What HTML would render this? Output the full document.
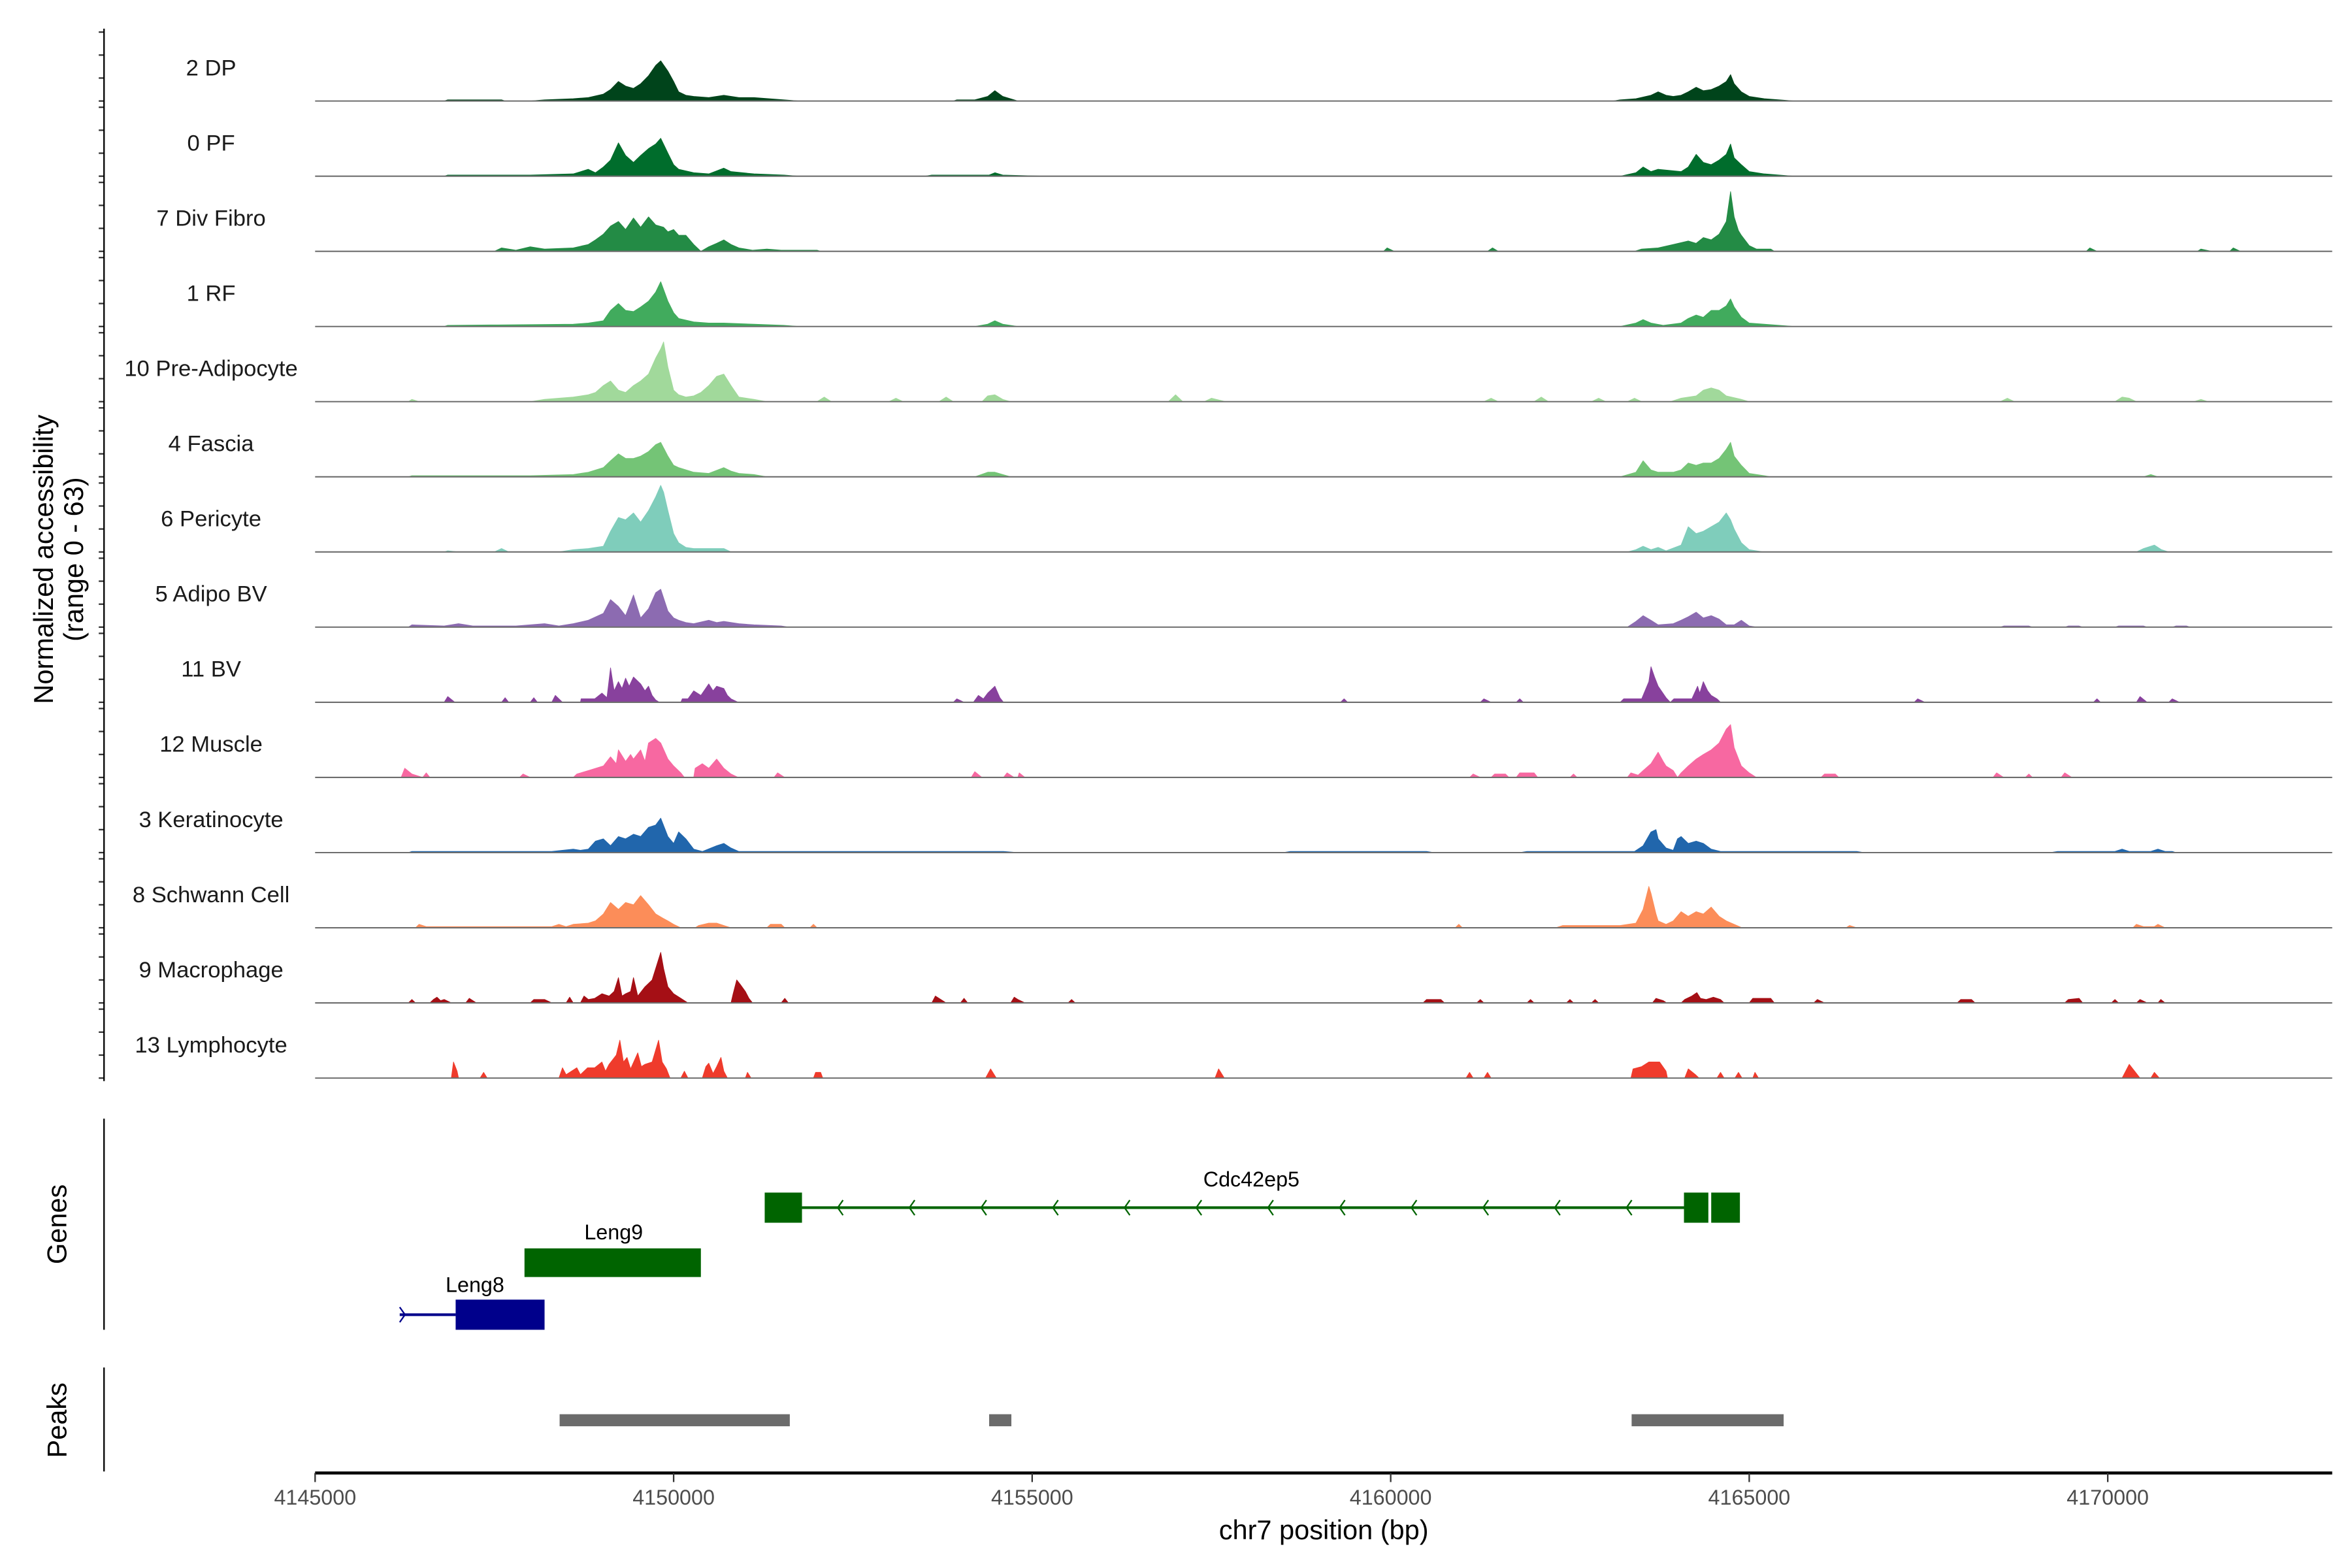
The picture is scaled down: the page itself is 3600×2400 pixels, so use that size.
<!DOCTYPE html>
<html><head><meta charset="utf-8"><style>
html,body{margin:0;padding:0;background:#fff;}
svg{display:block;font-family:"Liberation Sans",Arial,sans-serif;}
</style></head><body>
<svg id="chart" width="3600" height="2400" viewBox="0 0 1560 1040" xmlns="http://www.w3.org/2000/svg">
<rect width="1560" height="1040" fill="#fff"/>
<g id="tracks"></g>
<g id="yaxis"></g>
<text transform="translate(35,371) rotate(-90)" text-anchor="middle" font-size="18" fill="#000">Normalized accessibility</text>
<text transform="translate(55,371) rotate(-90)" text-anchor="middle" font-size="18" fill="#000">(range 0 - 63)</text>
<g id="genes"></g>
<line x1="69" y1="742" x2="69" y2="882" stroke="#000" stroke-width="1"/>
<text transform="translate(44,812) rotate(-90)" text-anchor="middle" font-size="18" fill="#000">Genes</text>
<g id="peaks"></g>
<line x1="69" y1="907" x2="69" y2="976" stroke="#000" stroke-width="1"/>
<text transform="translate(44,942) rotate(-90)" text-anchor="middle" font-size="18" fill="#000">Peaks</text>
<g id="xaxis"></g>
<text x="878" y="1021" text-anchor="middle" font-size="18" fill="#000">chr7 position (bp)</text>
</svg>
<script>
// ---- data (positions in kb offset from regionStart, values in normalized accessibility 0-63) ----
const regionStart = 4145000;
const regionEndKb = 28.13;
const xTicksBp = [4145000, 4150000, 4155000, 4160000, 4165000, 4170000];
const yMaxValue = 63;
const yTickValues = [0, 20, 40, 60];
const trackNames = ["2 DP","0 PF","7 Div Fibro","1 RF","10 Pre-Adipocyte","4 Fascia","6 Pericyte","5 Adipo BV","11 BV","12 Muscle","3 Keratinocyte","8 Schwann Cell","9 Macrophage","13 Lymphocyte"];
const trackColors = ["#00441b","#006d2c","#238b45","#41ab5d","#a1d99b","#74c476","#7fcdbb","#8c6bb1","#88419d","#f768a1","#2166ac","#fc8d59","#a50f15","#ef3b2c"];

const sig0 = [1.8,0,1.85,1,2.6,1,2.65,0,3.0,0,3.2,1,3.6,2,3.81,3,4.02,6,4.12,10,4.23,17,4.33,13,4.44,11,4.54,15,4.65,22,4.75,31,4.82,35,4.92,26,5.00,17,5.07,8,5.17,5,5.28,4,5.49,3,5.70,5,5.91,3,6.12,3,6.54,1,6.75,0,8.9,0,8.95,1,9.2,1,9.38,4,9.48,9,9.59,4,9.8,0,18.1,0,18.2,1,18.42,2,18.63,5,18.73,8,18.84,5,18.94,4,19.05,5,19.15,8,19.26,12,19.36,9,19.47,10,19.58,13,19.68,17,19.74,23,19.79,15,19.89,8,20.00,4,20.21,2,20.42,1,20.63,0];
const sig1 = [1.8,0,1.85,1,3.0,1,3.6,2,3.81,6,3.91,3,4.02,8,4.12,14,4.23,29,4.33,18,4.44,12,4.54,18,4.65,24,4.75,28,4.82,33,4.92,20,5.00,10,5.07,6,5.28,3,5.49,2,5.70,7,5.80,4,6.12,2,6.54,1,6.75,0,8.5,0,8.6,1,9.4,1,9.48,3,9.59,1,10.2,0,18.2,0,18.42,3,18.52,8,18.63,4,18.73,6,19.05,4,19.15,8,19.26,19,19.36,12,19.47,10,19.58,14,19.68,19,19.74,28,19.79,16,19.89,10,20.00,4,20.21,2,20.42,1,20.63,0];
const sig2 = [2.5,0,2.6,3,2.8,1,3.0,4,3.2,2,3.6,3,3.81,6,3.91,10,4.02,15,4.12,22,4.23,26,4.33,19,4.44,29,4.54,21,4.65,30,4.75,23,4.86,21,4.92,17,5.0,19,5.07,14,5.17,14,5.28,6,5.38,0,5.49,4,5.6,7,5.7,10,5.8,6,5.91,3,6.1,1,6.3,2,6.5,1,7.0,1,7.05,0,14.9,0,14.95,3,15.05,0,16.35,0,16.42,3,16.5,0,18.4,0,18.5,2,18.73,3,18.94,6,19.15,9,19.26,7,19.36,12,19.47,10,19.58,15,19.68,26,19.74,52,19.79,30,19.85,18,19.89,14,20.0,5,20.1,2,20.3,2,20.35,0,24.7,0,24.75,3,24.85,0,26.25,0,26.3,2,26.45,0,26.7,0,26.75,3,26.85,0];
const sig3 = [1.8,0,1.85,1,3.6,2,3.81,3,4.02,5,4.12,14,4.23,20,4.33,14,4.44,13,4.54,17,4.65,22,4.75,30,4.82,39,4.92,22,5.00,12,5.07,7,5.28,4,5.49,3,5.70,3,6.12,2,6.54,1,6.75,0,9.2,0,9.38,2,9.48,5,9.59,2,9.8,0,18.2,0,18.42,3,18.52,6,18.63,3,18.8,1,19.05,3,19.15,7,19.26,10,19.36,8,19.47,14,19.58,14,19.68,18,19.74,24,19.79,17,19.89,8,20.0,3,20.42,1,20.63,0];
const sig4 = [1.3,0,1.35,2,1.45,0,3.0,0,3.2,2,3.6,4,3.81,6,3.91,8,4.02,14,4.12,18,4.23,10,4.33,8,4.44,14,4.54,18,4.65,24,4.75,38,4.82,46,4.86,52,4.92,30,5.0,10,5.07,6,5.17,4,5.28,5,5.38,8,5.49,14,5.6,22,5.7,24,5.8,14,5.91,4,6.12,2,6.3,0,7.0,0,7.1,4,7.2,0,8.0,0,8.1,3,8.2,0,8.7,0,8.8,4,8.9,0,9.3,0,9.38,5,9.48,6,9.59,2,9.7,0,11.9,0,12.0,6,12.1,0,12.4,0,12.5,3,12.7,0,16.3,0,16.4,3,16.5,0,17.0,0,17.1,4,17.2,0,17.8,0,17.9,3,18.0,0,18.3,0,18.4,3,18.5,0,18.9,0,19.05,3,19.26,5,19.36,10,19.47,12,19.58,10,19.68,5,19.89,2,20.0,0,23.5,0,23.6,3,23.7,0,25.1,0,25.2,4,25.3,3,25.4,0,26.2,0,26.3,2,26.4,0];
const sig5 = [1.3,0,1.35,1,3.0,1,3.6,2,3.81,4,4.02,8,4.12,14,4.23,20,4.33,16,4.44,16,4.54,18,4.65,22,4.75,28,4.82,30,4.92,18,5.0,10,5.07,8,5.28,4,5.49,3,5.7,8,5.8,5,5.91,3,6.12,2,6.3,0,9.2,0,9.38,4,9.48,4,9.59,2,9.7,0,18.2,0,18.42,4,18.52,14,18.63,6,18.73,4,18.94,4,19.05,6,19.15,12,19.26,10,19.36,12,19.47,12,19.58,16,19.68,24,19.74,30,19.79,18,19.89,10,20.0,3,20.21,1,20.3,0,25.5,0,25.6,2,25.7,0];
const sig6 = [1.8,0,1.85,1,2.0,0,2.5,0,2.6,3,2.7,0,3.4,0,3.6,2,3.81,3,4.02,5,4.12,18,4.23,30,4.33,28,4.44,34,4.54,26,4.65,36,4.75,48,4.82,58,4.86,52,4.92,36,5.0,16,5.07,8,5.17,4,5.28,3,5.49,3,5.7,3,5.8,0,18.3,0,18.42,2,18.52,5,18.63,2,18.73,4,18.84,1,19.05,6,19.15,22,19.26,16,19.36,18,19.47,22,19.58,26,19.68,34,19.74,28,19.79,20,19.89,8,20.0,2,20.2,0,25.4,0,25.5,3,25.65,6,25.75,2,25.85,0];
const sig7 = [1.3,0,1.35,2,1.8,1,2.0,3,2.2,1,2.8,1,3.2,3,3.4,1,3.6,3,3.81,6,4.02,12,4.12,24,4.23,18,4.33,10,4.44,28,4.54,8,4.65,16,4.75,30,4.82,33,4.92,14,5.0,8,5.07,6,5.17,4,5.28,3,5.49,6,5.6,4,5.7,5,5.91,3,6.12,2,6.5,1,6.6,0,18.3,0,18.42,5,18.52,10,18.63,6,18.73,2,18.94,3,19.05,6,19.15,9,19.26,13,19.36,8,19.47,10,19.58,7,19.68,2,19.79,2,19.89,6,20.0,1,20.1,0,23.5,0,23.55,1,23.9,1,23.95,0,24.4,0,24.45,1,24.6,1,24.65,0,25.1,0,25.15,1,25.5,1,25.55,0,25.9,0,25.95,1,26.1,1,26.15,0];
const sig8 = [1.8,0,1.85,5,1.95,0,2.6,0,2.65,4,2.7,0,3.0,0,3.05,4,3.1,0,3.3,0,3.35,6,3.45,0,3.7,0,3.71,3,3.9,3,4.0,8,4.07,4,4.12,30,4.17,10,4.23,18,4.28,12,4.33,21,4.38,14,4.44,22,4.54,16,4.6,10,4.65,14,4.7,6,4.75,2,4.8,0,5.1,0,5.12,3,5.2,3,5.28,10,5.38,6,5.49,16,5.55,10,5.6,14,5.7,12,5.75,6,5.8,3,5.9,0,8.9,0,8.95,3,9.05,0,9.18,0,9.25,6,9.32,3,9.38,8,9.48,14,9.55,4,9.6,0,14.3,0,14.35,3,14.4,0,16.25,0,16.3,3,16.4,0,16.75,0,16.8,3,16.85,0,18.2,0,18.25,3,18.5,3,18.6,18,18.63,31,18.68,22,18.73,14,18.84,4,18.9,0,18.95,3,19.2,3,19.28,14,19.31,8,19.36,18,19.42,10,19.47,6,19.55,3,19.6,0,22.3,0,22.35,3,22.45,0,24.8,0,24.85,3,24.9,0,25.4,0,25.45,5,25.55,0,25.85,0,25.9,3,26.0,0];
const sig9 = [1.2,0,1.25,8,1.35,3,1.5,0,1.55,4,1.6,0,2.85,0,2.9,3,3.0,0,3.6,0,3.65,3,3.81,6,4.02,10,4.12,18,4.2,12,4.23,24,4.33,14,4.4,20,4.44,16,4.54,24,4.6,14,4.65,30,4.75,34,4.82,30,4.92,16,5.0,10,5.1,4,5.15,0,5.28,0,5.3,8,5.4,12,5.49,8,5.6,16,5.7,8,5.8,3,5.9,0,6.4,0,6.45,4,6.55,0,9.15,0,9.2,5,9.3,0,9.6,0,9.65,4,9.75,0,9.8,0,9.82,4,9.9,0,16.1,0,16.15,3,16.25,0,16.4,0,16.45,3,16.6,3,16.65,0,16.75,0,16.8,4,17.0,4,17.05,0,17.5,0,17.55,3,17.6,0,18.3,0,18.35,4,18.45,2,18.52,6,18.63,12,18.73,22,18.8,14,18.84,10,18.94,6,19.0,0,19.05,4,19.15,10,19.26,16,19.36,20,19.47,24,19.58,30,19.68,42,19.74,46,19.79,26,19.89,10,20.0,4,20.1,0,21.0,0,21.05,3,21.2,3,21.25,0,23.4,0,23.45,4,23.55,0,23.85,0,23.9,3,23.95,0,24.35,0,24.4,4,24.5,0];
const sig10 = [1.3,0,1.35,1,3.3,1,3.6,3,3.7,2,3.81,3,3.91,10,4.02,12,4.12,6,4.23,14,4.33,12,4.44,16,4.54,14,4.65,22,4.75,24,4.82,30,4.92,14,5.0,8,5.07,18,5.17,12,5.28,3,5.4,1,5.6,6,5.7,8,5.8,4,5.91,1,6.5,1,9.0,1,9.6,1,9.8,0,13.5,0,13.6,1,15.5,1,15.6,0,16.8,0,16.9,1,18.4,1,18.52,6,18.63,18,18.7,20,18.73,12,18.84,4,18.94,2,19.0,12,19.05,14,19.15,8,19.26,10,19.36,8,19.47,3,19.6,1,20.2,1,21.5,1,21.6,0,24.2,0,24.3,1,25.1,1,25.2,3,25.3,1,25.6,1,25.7,3,25.8,1,25.9,1,25.95,0];
const sig11 = [1.4,0,1.45,3,1.55,1,1.8,1,2.5,1,3.3,1,3.4,3,3.5,1,3.6,3,3.81,4,3.91,6,4.02,12,4.12,22,4.23,16,4.33,22,4.44,20,4.54,28,4.65,20,4.75,12,4.86,8,4.92,6,5.0,3,5.1,0,5.3,0,5.35,2,5.49,4,5.6,4,5.7,2,5.8,0,6.3,0,6.35,3,6.5,3,6.55,0,6.9,0,6.95,3,7.0,0,15.9,0,15.95,3,16.0,0,17.3,0,17.4,2,18.2,2,18.42,4,18.52,16,18.6,36,18.63,30,18.7,12,18.73,6,18.84,3,18.94,6,19.05,14,19.15,10,19.26,14,19.36,12,19.47,18,19.58,10,19.68,6,19.79,3,19.9,0,21.35,0,21.4,2,21.5,0,25.35,0,25.4,3,25.5,1,25.65,1,25.7,3,25.8,0];
const sig12 = [1.3,0,1.35,3,1.4,0,1.6,0,1.65,3,1.7,5,1.75,2,1.8,3,1.9,0,2.1,0,2.15,4,2.25,0,3.0,0,3.05,3,3.2,3,3.3,0,3.5,0,3.55,5,3.6,0,3.7,0,3.75,6,3.81,3,3.9,4,4.0,8,4.1,6,4.17,10,4.23,22,4.28,6,4.33,8,4.4,10,4.44,22,4.5,6,4.6,14,4.7,20,4.78,36,4.82,44,4.86,30,4.92,14,5.0,8,5.1,4,5.2,0,5.8,0,5.83,8,5.88,20,5.93,16,6.0,10,6.05,4,6.1,0,6.5,0,6.55,4,6.6,0,8.6,0,8.65,6,8.75,2,8.8,0,9.0,0,9.05,4,9.1,0,9.7,0,9.75,5,9.8,3,9.9,0,10.5,0,10.55,3,10.6,0,15.45,0,15.5,3,15.7,3,15.75,0,16.2,0,16.25,3,16.3,0,16.9,0,16.95,3,17.0,0,17.45,0,17.5,3,17.55,0,17.8,0,17.85,3,17.9,0,18.65,0,18.7,4,18.8,2,18.85,0,19.05,0,19.1,3,19.2,6,19.27,9,19.32,4,19.4,3,19.5,5,19.6,3,19.65,0,20.0,0,20.05,4,20.3,4,20.35,0,20.9,0,20.95,3,21.05,0,22.9,0,22.95,3,23.1,3,23.15,0,24.4,0,24.45,3,24.6,4,24.65,0,25.05,0,25.1,3,25.15,0,25.4,0,25.45,3,25.55,0,25.7,0,25.74,3,25.8,0];
const sig13 = [1.9,0,1.93,14,1.98,6,2.0,0,2.3,0,2.35,5,2.4,0,3.4,0,3.45,9,3.5,3,3.65,9,3.7,3,3.8,9,3.9,9,4.0,14,4.05,6,4.1,12,4.2,20,4.25,33,4.3,14,4.35,18,4.4,8,4.5,22,4.55,10,4.6,12,4.7,14,4.79,33,4.84,14,4.9,8,4.95,0,5.1,0,5.15,6,5.2,0,5.4,0,5.45,10,5.49,13,5.55,4,5.6,10,5.66,18,5.7,6,5.75,0,6.0,0,6.03,5,6.08,0,6.95,0,6.98,5,7.05,5,7.08,0,9.35,0,9.42,8,9.5,0,12.55,0,12.6,8,12.68,0,16.05,0,16.1,5,16.15,0,16.3,0,16.35,5,16.4,0,18.35,0,18.38,8,18.5,10,18.6,14,18.75,14,18.84,6,18.86,0,19.1,0,19.15,8,19.25,3,19.3,0,19.55,0,19.6,5,19.65,0,19.8,0,19.85,5,19.9,0,20.05,0,20.08,5,20.13,0,25.2,0,25.3,12,25.4,4,25.45,0,25.6,0,25.65,5,25.72,0];
const trackSignals = [sig0,sig1,sig2,sig3,sig4,sig5,sig6,sig7,sig8,sig9,sig10,sig11,sig12,sig13];

const geneNames = ["Cdc42ep5","Leng9","Leng8"];
const geneStarts = [6.27, 2.92, 1.18];
const geneEnds = [19.87, 5.38, 3.20];
const peakStarts = [3.41, 9.40, 18.36];
const peakEnds = [6.62, 9.71, 20.48];

// ---- scales ----
const X0 = 209, PX_PER_KB = 47.56;
function xScale(kb){ return X0 + kb * PX_PER_KB; }
function xScaleBp(bp){ return xScale((bp - regionStart)/1000); }
const BASE0 = 67, TRACK_STEP = 49.85, TRACK_H = 48;
function baseline(i){ return BASE0 + i*TRACK_STEP; }
function yScale(i, v){ return baseline(i) - v / yMaxValue * TRACK_H; }

const NS = "http://www.w3.org/2000/svg";
function mk(tag, attrs, parent){
  const e = document.createElementNS(NS, tag);
  for (const k in attrs) e.setAttribute(k, attrs[k]);
  parent.appendChild(e);
  return e;
}

// ---- tracks ----
const gT = document.getElementById("tracks");
const gY = document.getElementById("yaxis");
trackNames.forEach((name, i) => {
  const sig = trackSignals[i];
  const b = baseline(i);
  let d = "M" + xScale(sig[0]).toFixed(2) + "," + b.toFixed(2);
  for (let k = 0; k < sig.length; k += 2) {
    d += "L" + xScale(sig[k]).toFixed(2) + "," + yScale(i, sig[k+1]).toFixed(2);
  }
  d += "L" + xScale(sig[sig.length-2]).toFixed(2) + "," + b.toFixed(2) + "Z";
  const p = mk("path", {d: d, fill: trackColors[i], stroke: trackColors[i], "stroke-width": 0.4, "stroke-linejoin": "round"}, gT);
  
  
  const ln = mk("line", {x1: X0, y1: b, x2: xScale(regionEndKb), y2: b, stroke: "#6e6e6e", "stroke-width": 0.9}, gT);
  
  
  const t = mk("text", {x: 140, y: b - 17, "text-anchor": "middle", "font-size": 15, fill: "#1a1a1a"}, gT);
  t.textContent = name;
  
  
  yTickValues.forEach(v => {
    const tk = mk("line", {x1: 65.5, x2: 69, y1: yScale(i, v), y2: yScale(i, v), stroke: "#333", "stroke-width": 1}, gY);
    
    
  });
});
const yAx = mk("line", {x1: 69, x2: 69, y1: yScale(0, yMaxValue), y2: baseline(13) + 2, stroke: "#000", "stroke-width": 1}, gY);



// ---- genes ----
const gG = document.getElementById("genes");
const geneGreen = "#006400", geneBlue = "#00008b";
(function(){
  const y = 801;
  const l = mk("line", {x1: xScale(6.79), x2: xScale(19.09), y1: y, y2: y, stroke: geneGreen, "stroke-width": 1.8}, gG);
  
  
  for (let kb = 7.32; kb < 19.0; kb += 1.0) {
    const cx = xScale(kb);
    const c = mk("path", {d: `M${cx+2},${y-5}L${cx-1.5},${y}L${cx+2},${y+5}`, fill: "none", stroke: geneGreen, "stroke-width": 1}, gG);
    
    
  }
  const b1 = mk("rect", {x: xScale(geneStarts[0]), y: 791, width: xScale(6.79)-xScale(geneStarts[0]), height: 20, fill: geneGreen}, gG);
  
  
  const b2 = mk("rect", {x: xScale(19.09), y: 791, width: xScale(19.43)-xScale(19.09), height: 20, fill: geneGreen}, gG);
  
  
  const b3 = mk("rect", {x: xScale(19.47), y: 791, width: xScale(geneEnds[0])-xScale(19.47), height: 20, fill: geneGreen}, gG);
  
  
  const t = mk("text", {x: 830, y: 787, "text-anchor": "middle", "font-size": 14, fill: "#000"}, gG);
  t.textContent = geneNames[0];
  
  
})();
(function(){
  const r = mk("rect", {x: xScale(geneStarts[1]), y: 828, width: xScale(geneEnds[1])-xScale(geneStarts[1]), height: 19, fill: geneGreen}, gG);
  
  
  const t = mk("text", {x: 407, y: 822, "text-anchor": "middle", "font-size": 14, fill: "#000"}, gG);
  t.textContent = geneNames[1];
  
  
})();
(function(){
  const y = 872;
  const l = mk("line", {x1: xScale(geneStarts[2]), x2: xScale(1.96), y1: y, y2: y, stroke: geneBlue, "stroke-width": 1.8}, gG);
  
  
  const cx = xScale(geneStarts[2]);
  const a = mk("path", {d: `M${cx},${y-5}L${cx+3.5},${y}L${cx},${y+5}`, fill: "none", stroke: geneBlue, "stroke-width": 1}, gG);
  
  
  const r = mk("rect", {x: xScale(1.96), y: 862, width: xScale(geneEnds[2])-xScale(1.96), height: 20, fill: geneBlue}, gG);
  
  
  const t = mk("text", {x: 315, y: 857, "text-anchor": "middle", "font-size": 14, fill: "#000"}, gG);
  t.textContent = geneNames[2];
  
  
})();

// ---- peaks ----
const gP = document.getElementById("peaks");
peakStarts.forEach((s, i) => {
  const r = mk("rect", {x: xScale(s), y: 938, width: xScale(peakEnds[i]) - xScale(s), height: 8, fill: "#6b6b6b"}, gP);
  
  
});

// ---- x axis ----
const gX = document.getElementById("xaxis");
const xl = mk("line", {x1: X0, x2: xScale(regionEndKb), y1: 977, y2: 977, stroke: "#000", "stroke-width": 2}, gX);


xTicksBp.forEach(bp => {
  const x = xScaleBp(bp);
  const tk = mk("line", {x1: x, x2: x, y1: 977, y2: 983, stroke: "#333", "stroke-width": 1}, gX);
  
  
  const t = mk("text", {x: x, y: 998, "text-anchor": "middle", "font-size": 14, fill: "#4d4d4d"}, gX);
  t.textContent = String(bp);
  
  
});
</script>
</body></html>
